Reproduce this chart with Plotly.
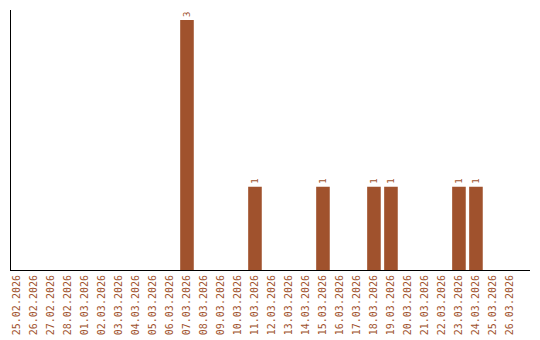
import plotly.graph_objects as go

dates = ["25.02.2026","26.02.2026","27.02.2026","28.02.2026","01.03.2026","02.03.2026",
         "03.03.2026","04.03.2026","05.03.2026","06.03.2026","07.03.2026","08.03.2026",
         "09.03.2026","10.03.2026","11.03.2026","12.03.2026","13.03.2026","14.03.2026",
         "15.03.2026","16.03.2026","17.03.2026","18.03.2026","19.03.2026","20.03.2026",
         "21.03.2026","22.03.2026","23.03.2026","24.03.2026","25.03.2026","26.03.2026"]
counts = [0,0,0,0,0,0,0,0,0,0,3,0,0,0,1,0,0,0,1,0,0,1,1,0,0,0,1,1,0,0]

color = "#A0522D"
labels = [str(v) if v > 0 else "" for v in counts]

fig = go.Figure(go.Bar(
    x=list(range(len(dates))), y=counts, marker_color=color, width=0.8,
    marker_line_width=0,
    text=labels, textposition="outside", textangle=-90,
    textfont=dict(family="DejaVu Sans Mono", size=9, color=color),
    cliponaxis=False,
))
fig.update_layout(
    width=540, height=340, margin=dict(l=11, r=10, t=10, b=70),
    plot_bgcolor="white", paper_bgcolor="white", showlegend=False,
    xaxis=dict(tickmode="array", tickvals=list(range(len(dates))), ticktext=dates,
               tickangle=-90, range=[-0.353, 30.18], showgrid=False, zeroline=False,
               showline=True, linecolor="black", linewidth=1, ticks="", automargin=False,
               tickfont=dict(family="DejaVu Sans Mono", size=10, color=color)),
    yaxis=dict(range=[0, 3.12], showgrid=False, zeroline=False, showticklabels=False,
               showline=True, linecolor="black", linewidth=1, ticks="", automargin=False),
)
fig.write_html("out.html")
